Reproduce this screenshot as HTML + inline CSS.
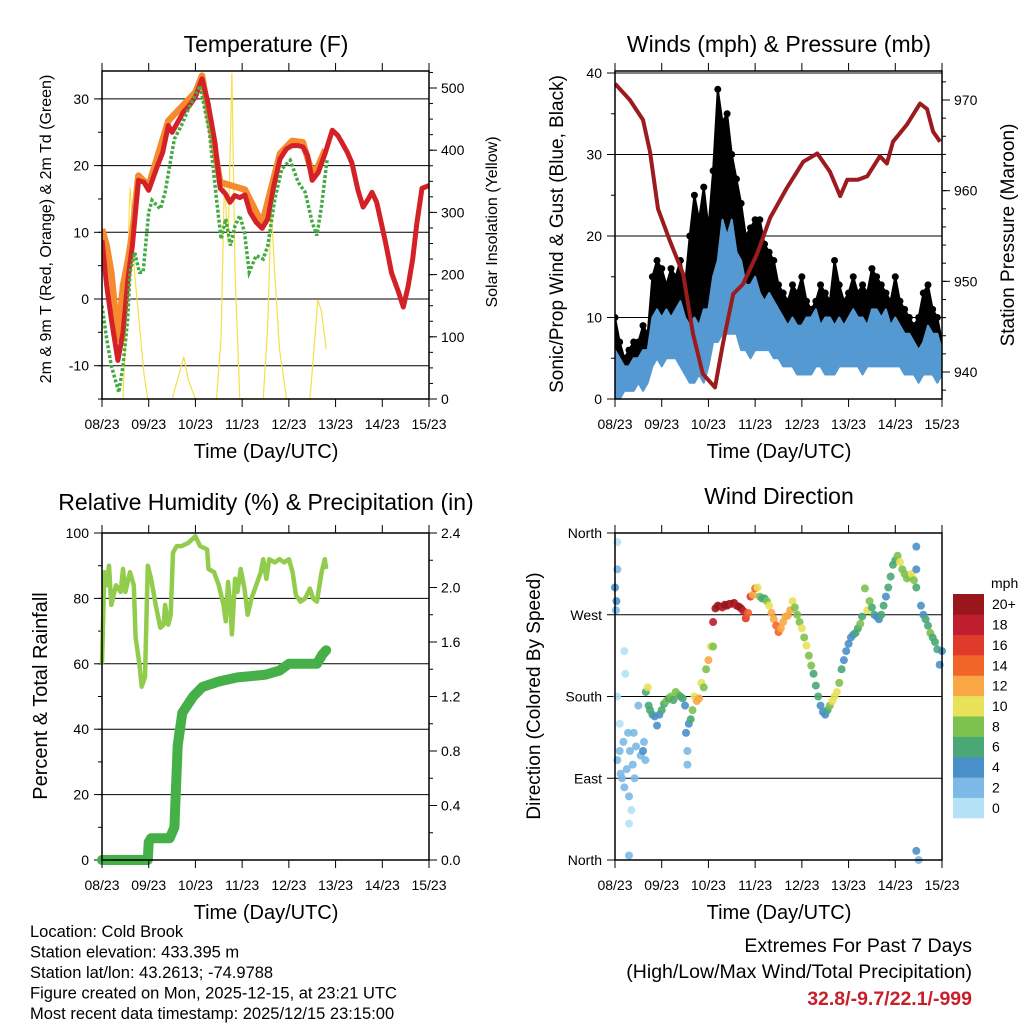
<!DOCTYPE html>
<html><head><meta charset="utf-8"><style>
body{margin:0;background:#fff;}
svg{display:block;font-family:"Liberation Sans",sans-serif;}
</style></head><body>
<svg id="fig" width="1024" height="1024" viewBox="0 0 1024 1024" xmlns="http://www.w3.org/2000/svg">
<rect width="1024" height="1024" fill="#fff"/>
<text x="266" y="52" font-size="23" text-anchor="middle">Temperature (F)</text>
<text x="779" y="52" font-size="23" text-anchor="middle">Winds (mph) &amp; Pressure (mb)</text>
<text x="266" y="510" font-size="23" text-anchor="middle">Relative Humidity (%) &amp; Precipitation (in)</text>
<text x="779" y="504" font-size="23" text-anchor="middle">Wind Direction</text>
<text x="266" y="458" font-size="20" text-anchor="middle">Time (Day/UTC)</text>
<text x="779" y="458" font-size="20" text-anchor="middle">Time (Day/UTC)</text>
<text x="266" y="919" font-size="20" text-anchor="middle">Time (Day/UTC)</text>
<text x="779" y="919" font-size="20" text-anchor="middle">Time (Day/UTC)</text>
<text transform="translate(51,229) rotate(-90)" font-size="16" text-anchor="middle">2m &amp; 9m T (Red, Orange) &amp; 2m Td (Green)</text>
<text transform="translate(497,222) rotate(-90)" font-size="16" text-anchor="middle">Solar Insolation (Yellow)</text>
<text transform="translate(563,234) rotate(-90)" font-size="19" text-anchor="middle">Sonic/Prop Wind &amp; Gust (Blue, Black)</text>
<text transform="translate(1014,235) rotate(-90)" font-size="19" text-anchor="middle">Station Pressure (Maroon)</text>
<text transform="translate(47,696) rotate(-90)" font-size="20" text-anchor="middle">Percent &amp; Total Rainfall</text>
<text transform="translate(540,696) rotate(-90)" font-size="19" text-anchor="middle">Direction (Colored By Speed)</text>
<g font-size="16.5">
<text x="30" y="937">Location: Cold Brook</text>
<text x="30" y="957.5">Station elevation: 433.395 m</text>
<text x="30" y="978">Station lat/lon: 43.2613; -74.9788</text>
<text x="30" y="998.5">Figure created on Mon, 2025-12-15, at 23:21 UTC</text>
<text x="30" y="1019">Most recent data timestamp: 2025/12/15 23:15:00</text>
</g>
<g font-size="19.5" text-anchor="end">
<text x="972" y="952">Extremes For Past 7 Days</text>
<text x="972" y="978">(High/Low/Max Wind/Total Precipitation)</text>
<text x="972" y="1005" fill="#c8202a" font-weight="bold">32.8/-9.7/22.1/-999</text>
</g>
</svg>
<script>
// ---------- data ----------
const dayLabels=["08/23","09/23","10/23","11/23","12/23","13/23","14/23","15/23"];
const tempDays=[0,0.1,0.2,0.34,0.45,0.56,0.65,0.78,0.9,1.0,1.18,1.3,1.42,1.5,1.62,1.74,1.87,2.0,2.14,2.27,2.42,2.53,2.64,2.74,2.84,2.95,3.06,3.17,3.3,3.43,3.55,3.68,3.81,3.95,4.07,4.2,4.3,4.4,4.5,4.63,4.78,4.93,5.05,5.14,5.25,5.35,5.48,5.59,5.7,5.78,5.88,6.06,6.2,6.35,6.45,6.55,6.65,6.74,6.85,7.0];
const tempRed=[8.8,2,-3,-9.2,-5,3.3,8,17.8,17.5,16.3,19.8,22,26,25,26.5,28,29,30.3,33,29.4,23.4,16.6,15.8,14.5,15.5,15.2,15.6,13,11.5,10.6,12,17,21,22.5,23,23,22.8,21.5,17.8,19,21.9,25.3,24.5,23.4,22,20.4,16.3,13.8,15,16,14.5,8.8,3.9,1,-1.2,1.8,6,11.4,16.6,17];
const orangeDays=[0,0.1,0.2,0.34,0.45,0.56,0.65,0.78,1.0,1.42,2.0,2.14,2.53,3.06,3.43,3.81,4.07,4.3,4.5,4.63,4.78];
const tempOrange=[10.5,8,4,-6,2,6,10,18.5,17,26.7,31,33.5,17.5,16.4,11.3,21.8,23.7,23.5,18.8,20,22.4];
const tdDays=[0,0.1,0.2,0.36,0.45,0.55,0.6,0.7,0.8,0.88,1.0,1.07,1.25,1.35,1.45,1.55,1.7,1.85,2.1,2.3,2.45,2.55,2.65,2.75,2.85,2.95,3.05,3.15,3.3,3.45,3.55,3.7,3.85,4.03,4.2,4.35,4.5,4.6,4.7,4.82];
const tdVals=[-1,-6,-10,-14,-10,-3,4,7,4,4,13,14.8,13.5,16,20,24,26,28.5,32,25,15,9,12,8,11,12.5,10,4,6.5,6,8,15,19.5,20.8,17.5,16,11.5,9.5,14,21];
const solarDays=[0,0.45,0.5,0.6,0.65,0.7,0.8,0.9,0.98,1.5,1.65,1.75,1.85,2.0,2.45,2.55,2.62,2.7,2.78,2.85,2.95,3.45,3.55,3.62,3.7,3.8,3.95,4.45,4.55,4.62,4.7,4.8];
const solarVals=[0,0,100,340,290,200,120,40,0,0,40,68,30,0,0,100,350,250,524,200,0,0,120,310,200,80,0,0,90,160,140,80];
const windDays=[0,0.1,0.2,0.3,0.4,0.5,0.6,0.7,0.8,0.9,1,1.1,1.2,1.3,1.4,1.5,1.6,1.7,1.8,1.9,2,2.1,2.2,2.3,2.4,2.5,2.6,2.7,2.8,2.9,3,3.1,3.2,3.3,3.4,3.5,3.6,3.7,3.8,3.9,4,4.1,4.2,4.3,4.4,4.5,4.6,4.7,4.8,4.9,5,5.1,5.2,5.3,5.4,5.5,5.6,5.7,5.8,5.9,6,6.1,6.2,6.3,6.4,6.5,6.6,6.7,6.8,6.9,7];
const blueHi=[6,5,4,4,5,5,6,6,10,11,10,11,10,11,12,10,9,10,9,11,11,15,17,22,20,22,18,17,14,14,15,13,12,13,12,11,10,9,10,9,9,10,10,11,9,10,10,9,10,9,10,11,10,10,9,11,11,10,11,9,10,9,8,8,7,6,7,9,8,8,6];
const blueLo=[0,0,1,1,1,2,1,2,4,5,4,5,5,5,4,3,2,2,3,2,4,7,7,8,8,8,8,6,6,5,6,6,6,6,5,5,4,4,4,3,3,3,3,4,4,3,3,3,4,4,4,4,4,3,4,4,4,4,4,4,4,4,3,3,3,2,3,3,3,2,3];
const gustHi=[10,7,5,6,7,7,9,8,15,17,16,14,16,15,17,14,20,25,22,26,21,28,38,34,35,30,27,24,20,21,22,22,19,18,17,14,13,12,14,13,15,12,11,12,14,13,12,17,14,12,13,15,13,14,13,16,15,14,13,12,15,12,11,10,9,10,13,14,11,10,7];
const gustLo=[1,1,2,2,2,3,3,3,7,8,8,8,8,7,8,6,5,5,6,6,7,12,13,14,14,13,12,12,10,10,11,10,10,10,9,9,7,6,6,6,6,6,6,6,7,6,6,6,6,7,7,6,6,7,7,7,7,6,7,7,6,6,5,5,5,4,5,6,5,4,4];
const presDays=[0,0.32,0.6,0.75,0.92,1.18,1.46,1.67,1.88,2.14,2.31,2.53,2.74,3.04,3.32,3.68,4.03,4.33,4.6,4.82,4.97,5.2,5.4,5.67,5.82,5.95,6.25,6.53,6.68,6.81,6.96];
const presVals=[971.8,970,967.8,964.3,958,954.4,950.8,944.2,939.8,938.3,943.1,948.6,949.7,953,957,960.3,963.2,964.1,962.1,959.4,961.2,961.2,961.6,963.8,963,965.4,967.3,969.6,969,966.5,965.4];
const rhDays=[0,0.05,0.1,0.15,0.2,0.3,0.4,0.45,0.5,0.6,0.68,0.72,0.8,0.85,0.92,0.98,1.05,1.15,1.25,1.32,1.35,1.42,1.47,1.52,1.6,1.7,1.85,2.0,2.1,2.25,2.28,2.4,2.5,2.6,2.65,2.7,2.75,2.78,2.85,2.9,2.97,3.05,3.12,3.2,3.3,3.4,3.45,3.52,3.58,3.7,3.8,3.9,4.0,4.08,4.15,4.25,4.35,4.45,4.52,4.6,4.7,4.77,4.8];
const rhVals=[60,88,84,90,78,84,82,89,82,88,84,68,60,53,56,90,86,78,71,72,78,72,75,94,96,96,97,99,96,95,89,88,84,78,73,85,77,69,86,82,89,83,75,80,84,88,92,86,92,91,92,91,92,88,81,79,80,83,80,79,88,92,89];
const rainDays=[0,0.98,1.0,1.05,1.45,1.55,1.62,1.72,1.95,2.15,2.5,2.9,3.5,3.8,4.0,4.6,4.72,4.8];
const rainVals=[0,0,0.13,0.16,0.16,0.24,0.84,1.08,1.2,1.27,1.31,1.34,1.36,1.39,1.44,1.44,1.51,1.54];
const dirDays=[0,0.02,0.03,0.05,0.05,0.05,0.05,0.1,0.1,0.12,0.15,0.18,0.2,0.2,0.22,0.25,0.28,0.3,0.3,0.3,0.32,0.35,0.38,0.4,0.42,0.45,0.5,0.55,0.6,0.62,0.65,
0.66,0.7,0.72,0.75,0.8,0.85,0.9,0.95,1.0,1.05,1.1,1.15,1.2,1.25,1.3,1.35,1.4,1.45,1.5,1.52,1.55,1.55,1.58,1.62,1.66,1.7,1.75,1.8,1.85,1.9,1.95,2.0,2.05,
2.1,2.1,2.15,2.2,2.25,2.3,2.35,2.4,2.45,2.5,2.55,2.6,2.65,2.7,2.75,2.8,2.85,2.9,2.95,3.0,3.05,3.1,3.15,3.2,3.25,3.3,3.35,3.4,3.45,3.5,3.55,3.6,3.65,3.7,3.75,3.8,3.85,3.9,3.95,4.0,4.05,4.1,4.15,4.2,4.25,4.3,4.35,4.4,4.45,4.5,4.55,4.6,4.65,4.7,4.75,4.8,4.85,4.9,4.95,5.0,5.05,5.1,5.15,5.2,5.25,5.29,5.35,5.4,5.45,5.5,5.55,5.6,5.65,5.7,5.75,5.8,5.85,5.9,5.95,6.0,6.05,6.1,6.15,6.2,6.25,6.3,6.35,6.4,6.45,6.45,6.45,6.45,6.5,6.55,6.6,6.65,6.7,6.75,6.8,6.85,6.9,6.95,7.0];
const dirVals=[300,275,285,320,350,180,110,120,150,95,90,130,80,230,205,100,140,70,40,5,120,55,105,140,90,125,170,115,120,130,110,
185,190,170,165,160,158,148,160,165,172,175,178,180,176,185,182,180,178,170,140,120,105,150,155,165,180,175,178,195,190,210,220,235,
235,262,277,280,279,278,281,280,282,282,283,280,279,277,274,266,272,290,292,299,300,290,288,288,285,280,272,265,258,251,255,262,268,269,275,285,278,270,262,255,245,236,225,214,205,192,180,170,163,160,165,170,175,180,185,195,210,220,230,238,245,248,250,255,260,268,299,275,285,278,270,268,265,270,280,290,300,312,325,330,335,328,320,315,310,312,315,308,300,320,345,10,0,280,270,265,258,250,245,240,232,215,230,220];
const dirSpd=[4,3,4,3,1,1,2,2,1,2,2,2,2,1,1,2,3,2,1,2,2,1,2,2,3,3,3,2,4,2,2,
7,10,6,6,6,5,4,5,7,7,8,7,8,7,8,8,7,6,5,4,3,2,4,7,8,10,12,13,10,9,8,12,10,
8,18,20,20,21,19,20,21,20,18,20,19,20,20,18,16,14,16,12,14,10,8,7,6,8,10,12,13,14,14,13,12,12,13,12,10,9,8,9,10,8,10,9,8,7,7,6,5,4,4,6,8,10,10,10,9,6,5,4,4,4,5,6,7,8,7,9,10,8,7,6,5,5,6,6,5,6,7,6,7,8,10,9,8,8,9,10,9,6,4,4,4,3,4,5,6,7,8,6,7,6,4,4,4];
const binColors=["#b5e1f7","#7cb9e6","#4a90c8","#4aa874","#7dc24e","#e8e15a","#f9a745","#f26529","#e03a2c","#be1e2d","#99161c"];
const binLabels=["0","2","4","6","8","10","12","14","16","18","20+"];

// ---------- helpers ----------
const NS="http://www.w3.org/2000/svg";
const svg=document.getElementById('fig');
function mk(tag,attrs,parent){const e=document.createElementNS(NS,tag);for(const k in attrs)e.setAttribute(k,attrs[k]);(parent||svg).appendChild(e);return e;}
function lin(d0,d1,r0,r1){return v=>r0+(v-d0)*(r1-r0)/(d1-d0);}
function pathFrom(xs,ys,fx,fy){return xs.map((d,i)=>(i?'L':'M')+fx(d).toFixed(1)+','+fy(ys[i]).toFixed(1)).join('');}

const P={T:{x0:102,x1:429,y0:71,y1:399},W:{x0:615,x1:942,y0:71,y1:399},R:{x0:102,x1:429,y0:533,y1:860},D:{x0:615,x1:942,y0:533,y1:860}};

function xTicks(p,g){
  const fx=lin(0,7,p.x0,p.x1);
  dayLabels.forEach((lab,i)=>{
    const x=fx(i);
    const tb=mk('line',{x1:x,x2:x,y1:p.y1,y2:p.y1+8,stroke:'#000','stroke-width':1},g);
    
    
    const tt=mk('line',{x1:x,x2:x,y1:p.y0,y2:p.y0-8,stroke:'#000','stroke-width':1},g);
    
    
    const t=mk('text',{x:x,y:p.y1+30,'font-size':14,'text-anchor':'middle'},g);
    t.textContent=lab;
    
    
  });
}
function yAxis(p,g,side,fy,majors,minors,labels,grid){
  const x=side==='l'?p.x0:p.x1, dir=side==='l'?-1:1;
  minors.forEach(v=>{const y=fy(v);const m=mk('line',{x1:x,x2:x+dir*4,y1:y,y2:y,stroke:'#000','stroke-width':1},g);
    
    });
  majors.forEach((v,i)=>{const y=fy(v);
    const m=mk('line',{x1:x,x2:x+dir*8,y1:y,y2:y,stroke:'#000','stroke-width':1},g);
    
    
    if(grid){const gl=mk('line',{x1:p.x0,x2:p.x1,y1:y,y2:y,stroke:'#000','stroke-width':1},g);
      
      }
    const t=mk('text',{x:side==='l'?x-13:x+12,y:y+5,'font-size':14,'text-anchor':side==='l'?'end':'start'},g);
    t.textContent=labels[i];
    
    });
}
function frame(p,g){const f=mk('rect',{x:p.x0,y:p.y0,width:p.x1-p.x0,height:p.y1-p.y0,fill:'none',stroke:'#000','stroke-width':1.5},g);
  
  }
function clip(id,p){const c=mk('clipPath',{id:id});mk('rect',{x:p.x0,y:p.y0,width:p.x1-p.x0,height:p.y1-p.y0},c);}
function range(a,b,s){const r=[];for(let v=a;v<=b+1e-9;v+=s)r.push(+v.toFixed(3));return r;}

// ---------- Temperature ----------
(function(){
 const p=P.T; const g=mk('g',{});  
 clip('cT',p);
 const fx=lin(0,7,p.x0,p.x1), fy=lin(0,10,299,232.3), fs=lin(0,500,399,88);
 const temps=[-10,0,10,20,30];
 yAxis(p,g,'l',fy,temps,range(-15,30,5),temps.map(String),true);
 const sol=[0,100,200,300,400,500];
 yAxis(p,g,'r',fs,sol,range(0,525,25),sol.map(String),false);
 const d=mk('g',{'clip-path':'url(#cT)'},g);
 const s=mk('path',{d:pathFrom(solarDays,solarVals,fx,fs),fill:'none',stroke:'#f5e04a','stroke-width':1.2},d);
  
 const o=mk('path',{d:pathFrom(orangeDays,tempOrange,fx,fy),fill:'none',stroke:'#f58a2e','stroke-width':6.5,'stroke-linejoin':'round'},d);
  
 const r=mk('path',{d:pathFrom(tempDays,tempRed,fx,fy),fill:'none',stroke:'#d42027','stroke-width':5,'stroke-linejoin':'round'},d);
  
 const gr=mk('path',{d:pathFrom(tdDays,tdVals,fx,fy),fill:'none',stroke:'#44aa44','stroke-width':3.5,'stroke-dasharray':'3 2'},d);
  
 xTicks(p,g); frame(p,g);
})();

// ---------- Winds ----------
(function(){
 const p=P.W; const g=mk('g',{});  
 clip('cW',p);
 const fx=lin(0,7,p.x0,p.x1), fy=lin(0,40,399,73), fp=lin(940,970,372,100);
 const w=[0,10,20,30,40];
 yAxis(p,g,'l',fy,w,range(0,40,5),w.map(String),true);
 const pr=[940,950,960,970];
 yAxis(p,g,'r',fp,pr,range(938,972,2),pr.map(String),false);
 const d=mk('g',{'clip-path':'url(#cW)'},g);
 const band=(lo,hi,col,nm)=>{const pts=windDays.map((t,i)=>fx(t)+','+fy(hi[i])).concat(windDays.map((t,i)=>fx(t)+','+fy(lo[i])).reverse());
   const e=mk('polygon',{points:pts.join(' '),fill:col,stroke:col,'stroke-width':2,'stroke-linejoin':'round'},d);
    };
 band(gustLo,gustHi,'#000','gust-band');
 windDays.forEach((t,i)=>{const c=mk('circle',{cx:fx(t),cy:fy(gustHi[i]),r:3.5,fill:'#000'},d);
    });
 band(blueLo,blueHi,'#5599d2','wind-speed-band');
 const pl=mk('path',{d:pathFrom(presDays,presVals,fx,fp),fill:'none',stroke:'#9b1b1e','stroke-width':4,'stroke-linejoin':'round'},d);
  
 xTicks(p,g); frame(p,g);
})();

// ---------- Humidity ----------
(function(){
 const p=P.R; const g=mk('g',{});  
 clip('cR',p);
 const fx=lin(0,7,p.x0,p.x1), fy=lin(0,100,860,533), fr=lin(0,2.4,860,533);
 const rh=[0,20,40,60,80,100];
 yAxis(p,g,'l',fy,rh,range(0,100,10),rh.map(String),true);
 const rn=[0,0.4,0.8,1.2,1.6,2.0,2.4];
 yAxis(p,g,'r',fr,rn,range(0,2.4,0.2),rn.map(v=>v.toFixed(1)),false);
 const d=mk('g',{},g);
 const a=mk('path',{d:pathFrom(rhDays,rhVals,fx,fy),fill:'none',stroke:'#92cc4c','stroke-width':4.5,'stroke-linejoin':'round'},d);
  
 const b=mk('path',{d:pathFrom(rainDays,rainVals,fx,fr),fill:'none',stroke:'#46b048','stroke-width':10,'stroke-linejoin':'round','stroke-linecap':'round'},d);
  
 xTicks(p,g); frame(p,g);
})();

// ---------- Wind direction ----------
(function(){
 const p=P.D; const g=mk('g',{});  
 const fx=lin(0,7,p.x0,p.x1), fy=lin(0,360,860,533);
 const dv=[0,90,180,270,360];
 yAxis(p,g,'l',fy,dv,[],["North","East","South","West","North"],true);
 const d=mk('g',{'fill-opacity':0.9},g);
 dirDays.forEach((t,i)=>{const bin=Math.min(10,Math.floor(dirSpd[i]/2));
   const c=mk('circle',{cx:fx(t),cy:fy(dirVals[i]),r:4,fill:binColors[bin]},d);
    });
 xTicks(p,g); frame(p,g);
 const lg=mk('g',{},svg);  
 const t=mk('text',{x:991,y:588,'font-size':14},lg); t.textContent='mph';
  
 const h=(818-594)/11;
 binColors.forEach((c,i)=>{const y=818-(i+1)*h;
   const r=mk('rect',{x:953,y:y,width:31,height:h+0.3,fill:c},lg);
    
   const l=mk('text',{x:992,y:y+h/2+5,'font-size':14},lg); l.textContent=binLabels[i];
    });
})();
</script>
</body></html>
